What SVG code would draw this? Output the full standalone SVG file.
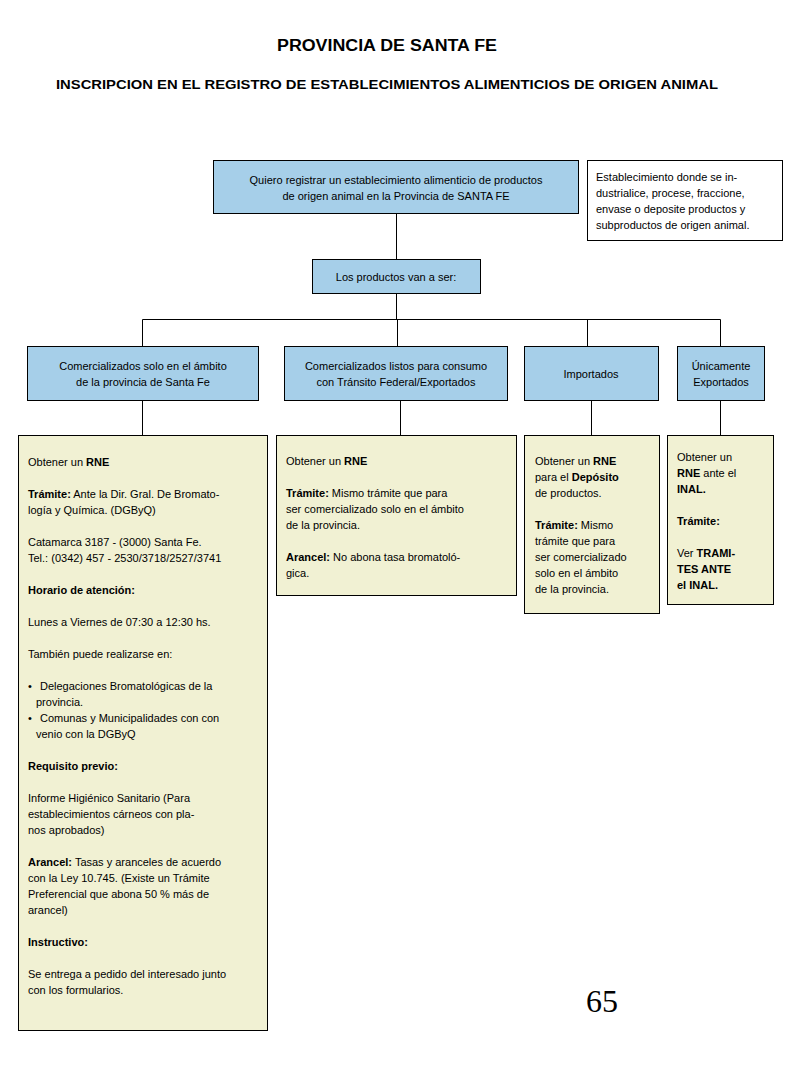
<svg xmlns="http://www.w3.org/2000/svg" width="800" height="1066" viewBox="0 0 800 1066">
<style>
text{font-family:"Liberation Sans",Arial,sans-serif;fill:#000}
.t{font-size:11px}
.c{text-anchor:middle}
.b{font-weight:bold}
.blue{fill:#a6cfe9;stroke:#000;stroke-width:1}
.yel{fill:#f1f1d3;stroke:#000;stroke-width:1}
.wht{fill:#fff;stroke:#000;stroke-width:1}
.ln{stroke:#000;stroke-width:1;fill:none}
text.serif{font-family:"Liberation Serif","Times New Roman",serif;font-size:32px}
</style>
<rect width="800" height="1066" fill="#fff"/>
<text x="387" y="51" class="c b" font-size="16" textLength="220" lengthAdjust="spacingAndGlyphs">PROVINCIA DE SANTA FE</text>
<text x="387" y="89" class="c b" font-size="13" textLength="662" lengthAdjust="spacingAndGlyphs">INSCRIPCION EN EL REGISTRO DE ESTABLECIMIENTOS ALIMENTICIOS DE ORIGEN ANIMAL</text>

<g id="connectors">
<path class="ln" d="M396.5 213V259M396.5 293V319.5M142.5 319.5H720.5M142.5 319.5V346M397.5 319.5V346M587.5 319.5V346M720.5 319.5V346"/>
<path class="ln" d="M142.5 400V435M400.5 400V435M591.5 400V435M720.5 400V435"/>
</g>

<g id="n-top">
<rect class="blue" x="213.5" y="160.5" width="365" height="53"/>
<text class="t c" x="396" y="184">Quiero registrar un establecimiento alimenticio de productos</text>
<text class="t c" x="396" y="200">de origen animal en la Provincia de SANTA FE</text>
</g>
<g id="n-note">
<rect class="wht" x="587.5" y="160.5" width="195" height="80"/>
<text class="t" x="596" y="181">Establecimiento donde se in-</text>
<text class="t" x="596" y="197">dustrialice, procese, fraccione,</text>
<text class="t" x="596" y="213">envase o deposite productos y</text>
<text class="t" x="596" y="229">subproductos de origen animal.</text>
</g>
<g id="n-productos">
<rect class="blue" x="312.5" y="259.5" width="168" height="34"/>
<text class="t c" x="396" y="281">Los productos van a ser:</text>
</g>
<g id="n-prov">
<rect class="blue" x="27.5" y="346.5" width="231" height="54"/>
<text class="t c" x="143" y="370">Comercializados solo en el ámbito</text>
<text class="t c" x="143" y="386">de la provincia de Santa Fe</text>
</g>
<g id="n-fed">
<rect class="blue" x="284.5" y="346.5" width="223" height="54"/>
<text class="t c" x="396" y="370">Comercializados listos para consumo</text>
<text class="t c" x="396" y="386">con Tránsito Federal/Exportados</text>
</g>
<g id="n-imp">
<rect class="blue" x="524.5" y="346.5" width="134" height="54"/>
<text class="t c" x="591" y="378">Importados</text>
</g>
<g id="n-exp">
<rect class="blue" x="677.5" y="346.5" width="87" height="54"/>
<text class="t c" x="721" y="370">Únicamente</text>
<text class="t c" x="721" y="386">Exportados</text>
</g>

<g id="d-prov">
<rect class="yel" x="18.5" y="435.5" width="249" height="595"/>
<text class="t" x="28" y="466">Obtener un <tspan class="b">RNE</tspan></text>
<text class="t" x="28" y="498"><tspan class="b">Trámite:</tspan> Ante la Dir. Gral. De Bromato-</text>
<text class="t" x="28" y="514">logía y Química. (DGByQ)</text>
<text class="t" x="28" y="546">Catamarca 3187 - (3000) Santa Fe.</text>
<text class="t" x="28" y="562">Tel.: (0342) 457 - 2530/3718/2527/3741</text>
<text class="t b" x="28" y="594">Horario de atención:</text>
<text class="t" x="28" y="626">Lunes a Viernes de 07:30 a 12:30 hs.</text>
<text class="t" x="28" y="658">También  puede realizarse en:</text>
<text class="t" x="28" y="690">•</text>
<text class="t" x="40" y="690">Delegaciones Bromatológicas de la</text>
<text class="t" x="36" y="706">provincia.</text>
<text class="t" x="28" y="722">•</text>
<text class="t" x="40" y="722">Comunas y Municipalidades con con</text>
<text class="t" x="36" y="738">venio  con la DGByQ</text>
<text class="t b" x="28" y="770">Requisito previo:</text>
<text class="t" x="28" y="802">Informe Higiénico Sanitario (Para</text>
<text class="t" x="28" y="818">establecimientos cárneos con pla-</text>
<text class="t" x="28" y="834">nos aprobados)</text>
<text class="t" x="28" y="866"><tspan class="b">Arancel:</tspan> Tasas y aranceles de acuerdo</text>
<text class="t" x="28" y="882">con la Ley 10.745. (Existe un Trámite</text>
<text class="t" x="28" y="898">Preferencial que abona 50 % más de</text>
<text class="t" x="28" y="914">arancel)</text>
<text class="t b" x="28" y="946">Instructivo:</text>
<text class="t" x="28" y="978">Se entrega a pedido del interesado junto</text>
<text class="t" x="28" y="994">con los formularios.</text>
</g>
<g id="d-fed">
<rect class="yel" x="276.5" y="435.5" width="240" height="160"/>
<text class="t" x="286" y="465">Obtener un <tspan class="b">RNE</tspan></text>
<text class="t" x="286" y="497"><tspan class="b">Trámite:</tspan> Mismo trámite que para</text>
<text class="t" x="286" y="513">ser comercializado solo en el ámbito</text>
<text class="t" x="286" y="529">de la provincia.</text>
<text class="t" x="286" y="561"><tspan class="b">Arancel:</tspan> No abona tasa bromatoló-</text>
<text class="t" x="286" y="577">gica.</text>
</g>
<g id="d-imp">
<rect class="yel" x="524.5" y="435.5" width="135" height="178"/>
<text class="t" x="535" y="465">Obtener un <tspan class="b">RNE</tspan></text>
<text class="t" x="535" y="481">para el <tspan class="b">Depósito</tspan></text>
<text class="t" x="535" y="497">de productos.</text>
<text class="t" x="535" y="529"><tspan class="b">Trámite:</tspan> Mismo</text>
<text class="t" x="535" y="545">trámite que para</text>
<text class="t" x="535" y="561">ser comercializado</text>
<text class="t" x="535" y="577">solo en el ámbito</text>
<text class="t" x="535" y="593">de la provincia.</text>
</g>
<g id="d-exp">
<rect class="yel" x="667.5" y="435.5" width="106" height="169"/>
<text class="t" x="677" y="461">Obtener un</text>
<text class="t" x="677" y="477"><tspan class="b">RNE</tspan> ante el</text>
<text class="t b" x="677" y="493">INAL.</text>
<text class="t b" x="677" y="525">Trámite:</text>
<text class="t" x="677" y="557">Ver <tspan class="b">TRAMI-</tspan></text>
<text class="t b" x="677" y="573">TES ANTE</text>
<text class="t b" x="677" y="589">el INAL.</text>
</g>
<text class="serif" x="602" y="1012" text-anchor="middle">65</text>
</svg>
